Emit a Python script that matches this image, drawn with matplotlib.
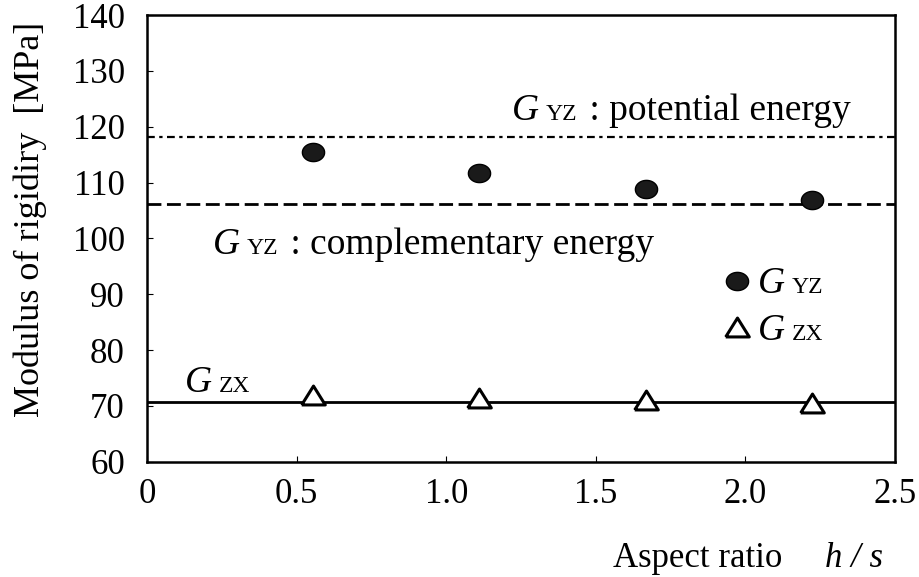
import numpy as np
import matplotlib.pyplot as plt

plt.rcParams['font.family'] = ['Liberation Serif', 'DejaVu Serif']

# data
aspect = [0.556, 1.111, 1.667, 2.222]
g_yz = [115.5, 111.7, 108.9, 106.9]
g_zx = [72.0, 71.5, 71.0, 70.5]
g_yz_potential = 118.2
g_yz_complementary = 106.2
g_zx_line = 70.7

xticks = [0, 0.5, 1.0, 1.5, 2.0, 2.5]
xticklabels = ['0', '0.5', '1.0', '1.5', '2.0', '2.5']
yticks = [60, 70, 80, 90, 100, 110, 120, 130, 140]

# marker shapes: slightly flattened dot and triangle
th = np.linspace(0, 2 * np.pi, 60)
dot = list(zip(np.cos(th), 0.82 * np.sin(th)))
tri = [(-1, -0.8), (1, -0.8), (0, 0.8), (-1, -0.8)]

fig = plt.figure(figsize=(9.19, 5.77), dpi=100)
ax = fig.add_axes([0.16, 0.1998, 0.814, 0.774])

ax.axhline(g_yz_potential, color='k', lw=1.6, dashes=(3.5, 2, 1.5, 2))
ax.axhline(g_yz_complementary, color='k', lw=2.0, dashes=(5, 2))
ax.axhline(g_zx_line, color='k', lw=2.0)

ax.plot(aspect, g_yz, ls='none', marker=dot, ms=16, color='#1a1a1a', mec='k')
ax.plot(aspect, g_zx, ls='none', marker=tri, ms=17, mfc='white', mec='k', mew=2.2)

ax.set_xlim(0, 2.5)
ax.set_ylim(60, 140)
ax.set_xticks(xticks)
ax.set_xticklabels(xticklabels)
ax.set_yticks(yticks)
ax.tick_params(direction='in', length=4, width=0.8, labelsize=25)
ax.tick_params(axis='x', pad=12)
ax.tick_params(axis='y', pad=16)
for s in ax.spines.values():
    s.set_linewidth(1.8)


def glabel(x, y, sub, rest, size=27):
    t = ax.text(x, y, 'G', style='italic', fontsize=size, va='baseline')
    t2 = ax.annotate(sub, xy=(1, y), xycoords=(t, 'data'), xytext=(5, 0),
                     textcoords='offset points', fontsize=size * 0.63, va='baseline')
    if rest:
        ax.annotate(rest, xy=(1, y), xycoords=(t2, 'data'), xytext=(2, 0),
                    textcoords='offset points', fontsize=size, va='baseline')


glabel(1.22, 121.2, 'YZ', ' : potential energy')
glabel(0.22, 97.2, 'YZ', ' : complementary energy')
glabel(0.125, 72.4, 'ZX', '')

# legend drawn by hand
ax.plot([1.972], [92.4], ls='none', marker=dot, ms=16, color='#1a1a1a', mec='k')
glabel(2.04, 90.2, 'YZ', '')
ax.plot([1.972], [84.1], ls='none', marker=tri, ms=17, mfc='white', mec='k', mew=2.2)
glabel(2.04, 81.8, 'ZX', '')

fig.text(0.033, 0.619, 'Modulus of rigidiry  [MPa]', rotation=90, fontsize=26,
         ha='center', va='center')
fig.text(0.667, 0.018, 'Aspect ratio', fontsize=25, va='baseline')
fig.text(0.898, 0.018, 'h / s', fontsize=25, va='baseline', style='italic')

fig.savefig('out.png', dpi=100)
